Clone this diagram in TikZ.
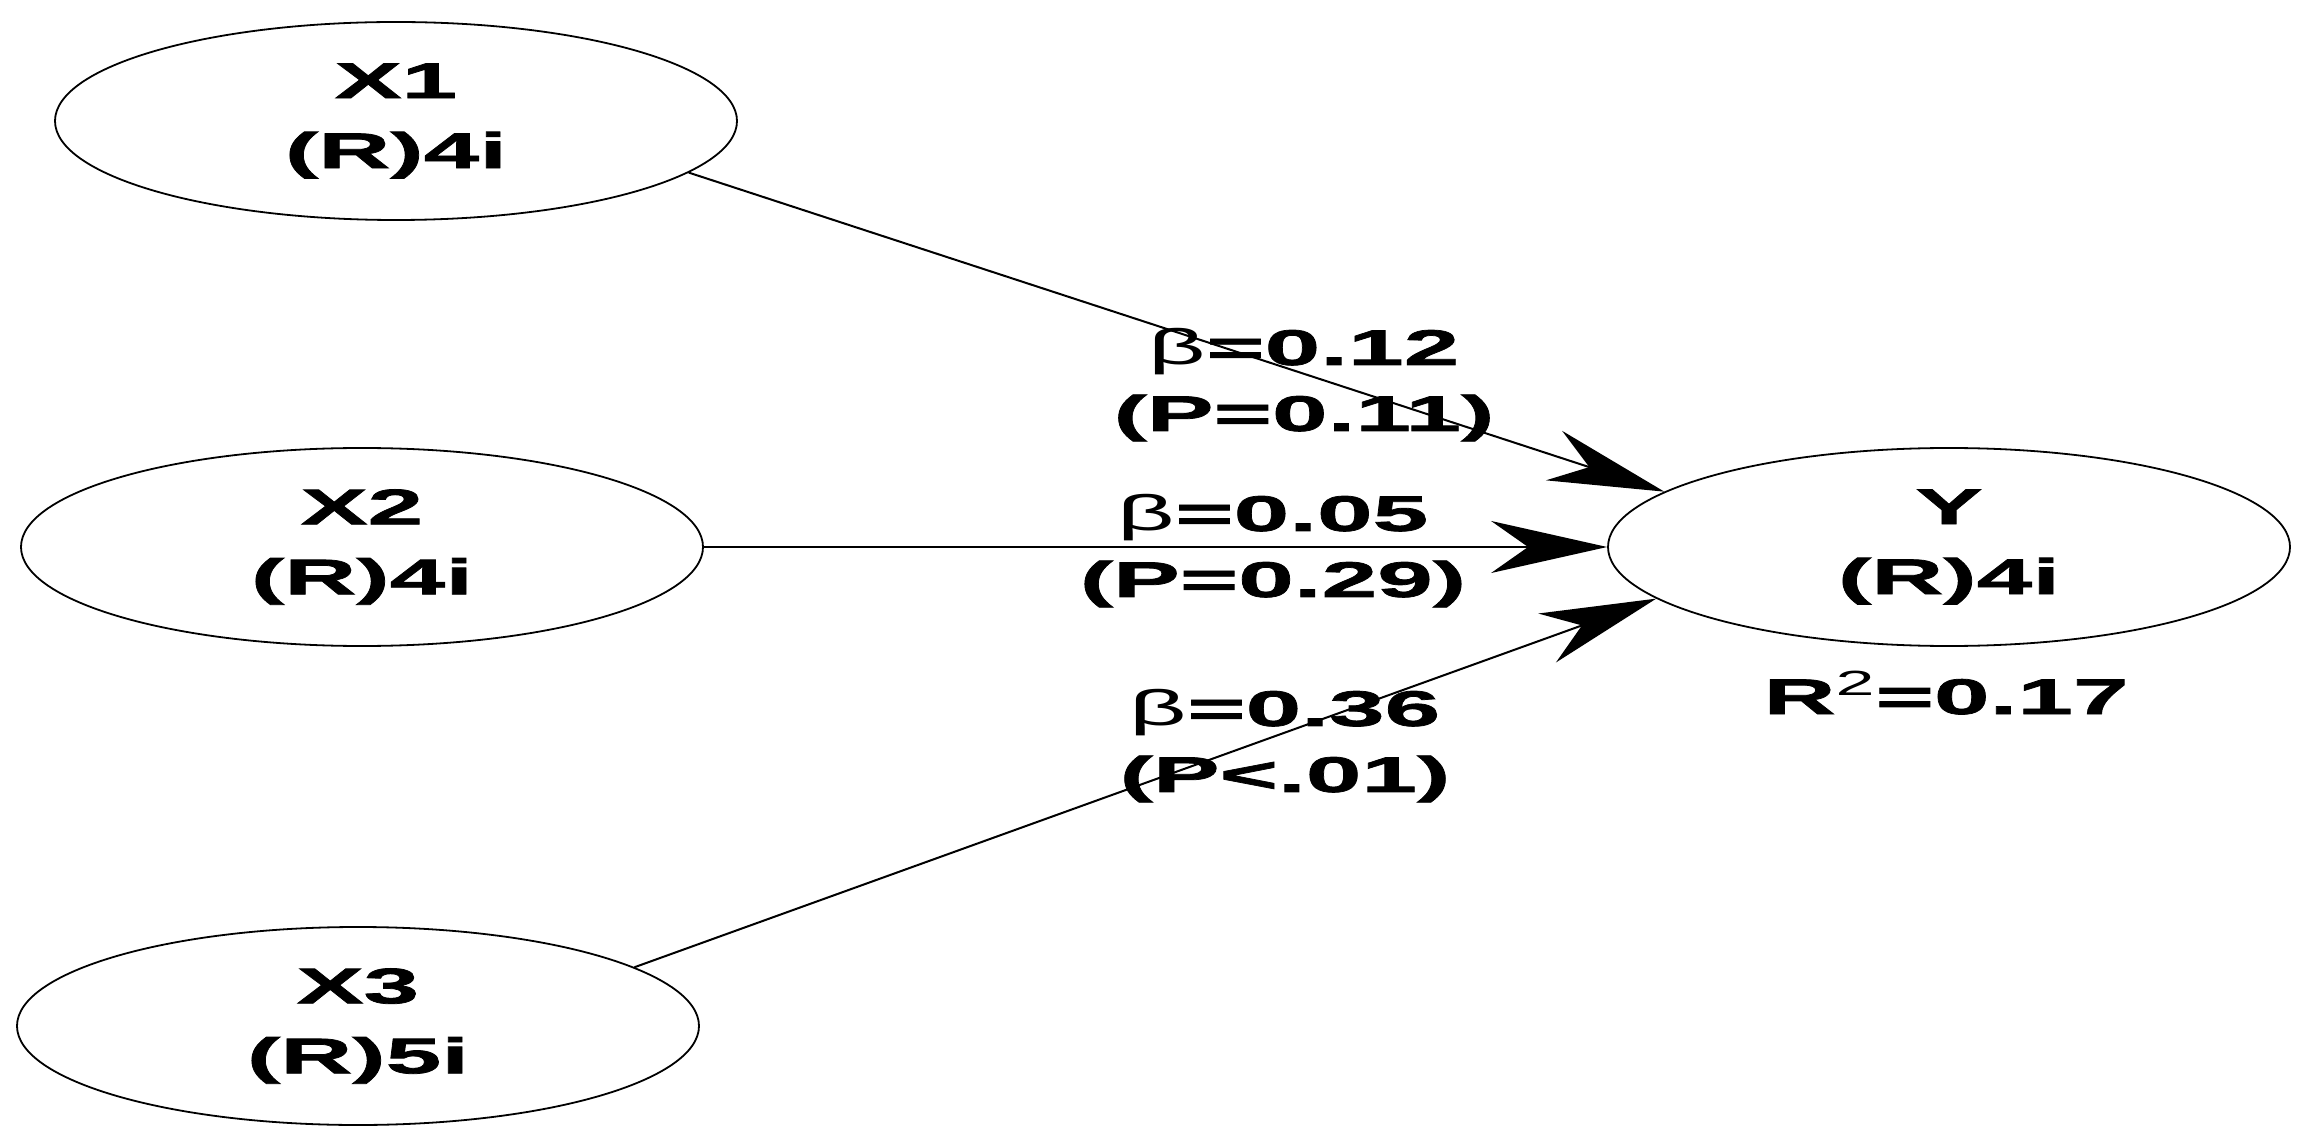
\documentclass[tikz,border=0pt]{standalone}
\usepackage{fontspec}
\setmainfont{Liberation Sans}[FakeStretch=2.0, BoldFeatures={FakeBold=1.5}]
\usetikzlibrary{arrows.meta,shapes.geometric}
\begin{document}
\begin{tikzpicture}[x=0.5pt,y=-0.5pt,
  latent/.style={ellipse, draw, line width=0.9pt, minimum width=341pt, minimum height=99pt,
    inner sep=0pt, align=center, font=\fontsize{25}{35}\selectfont\bfseries},
  lbl/.style={align=center, inner sep=0pt, font=\fontsize{25}{33}\selectfont\bfseries},
  conn/.style={line width=1pt, -{Stealth[length=58pt,width=26pt,inset=18.5pt]}}]
\useasboundingbox (0,0) rectangle (2306,1138);
\node[latent] (X1) at (396,121) {X1\\(R)4i};
\node[latent] (X2) at (362,547) {X2\\(R)4i};
\node[latent] (X3) at (358,1026) {X3\\(R)5i};
\node[latent] (Y) at (1949,547) {Y\\(R)4i};
\node[lbl] (R2) at (1946,693) {R\textsuperscript{\mdseries 2}=0.17};
\draw[conn] (X1.-10) -- (Y.169);
\draw[conn] (X2.east) -- (Y.west);
\draw[conn] (X3.12) -- (Y.190.6);
\node[lbl] (L1) at (1304,385) {{\mdseries β}=0.12\\(P=0.11)};
\node[lbl] (L2) at (1273,551) {{\mdseries β}=0.05\\(P=0.29)};
\node[lbl] (L3) at (1285,746) {{\mdseries β}=0.36\\(P<.01)};
\end{tikzpicture}
\end{document}
